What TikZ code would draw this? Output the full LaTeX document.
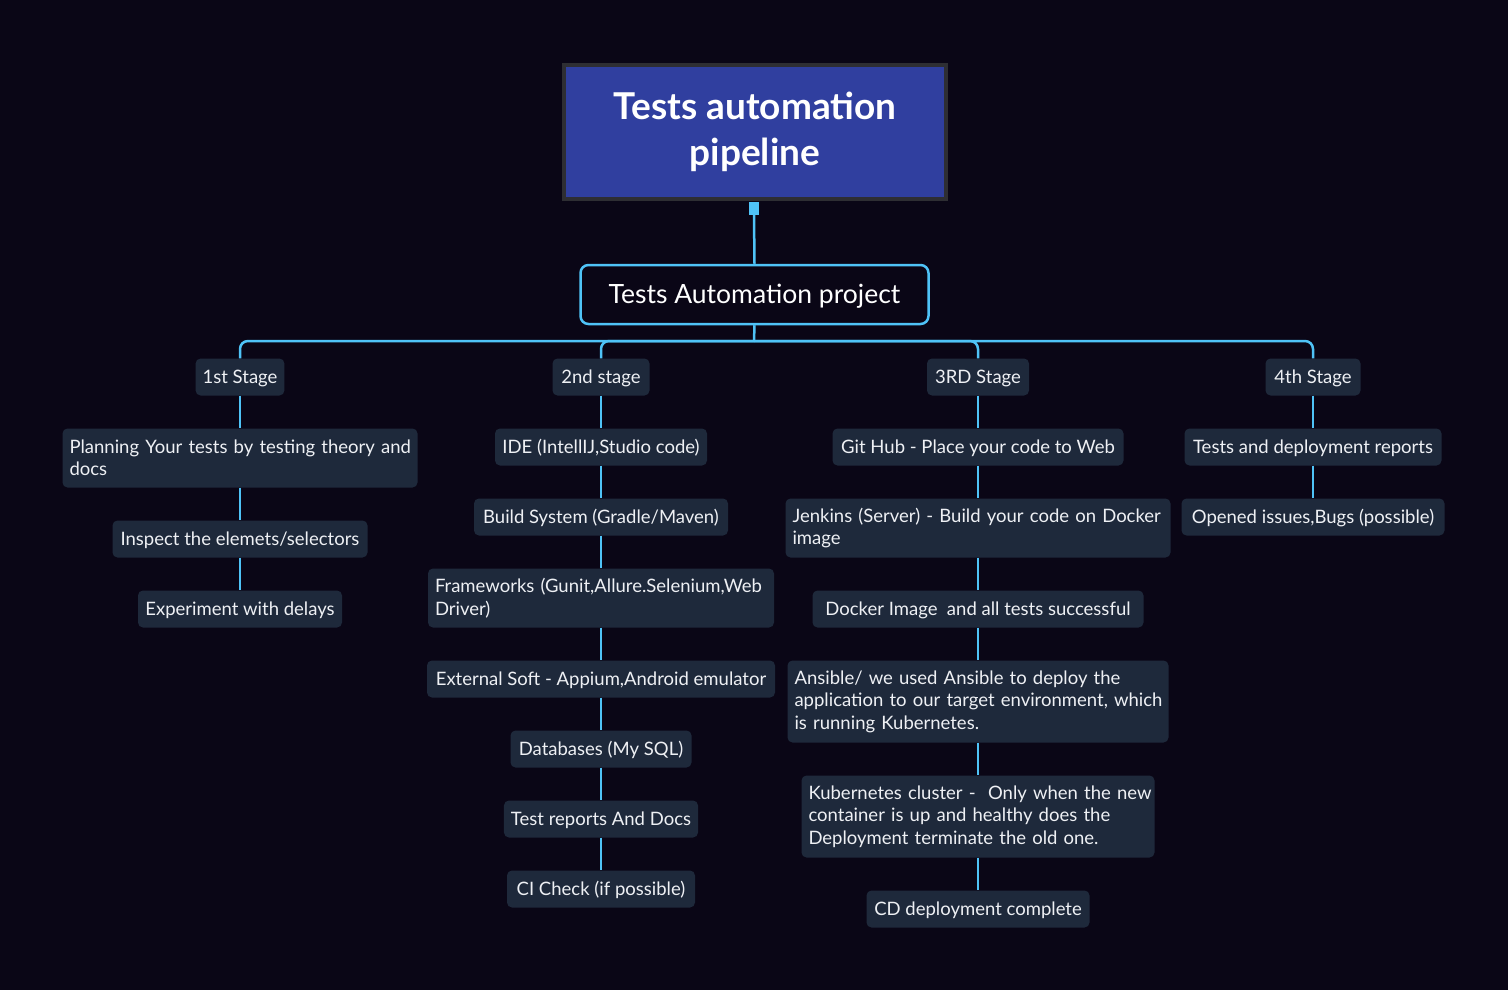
\documentclass[tikz,border=0pt]{standalone}
\usepackage{fontspec}
\setmainfont{Lato}
\definecolor{bgc}{HTML}{0A0616}
\definecolor{rootfill}{HTML}{303F9F}
\definecolor{rootdraw}{HTML}{2E2E33}
\definecolor{linkc}{HTML}{4FC3F7}
\definecolor{leaffill}{HTML}{1E293B}
\definecolor{textc}{HTML}{EEF0F4}
\tikzset{
  link/.style={draw=linkc, line width=2.5pt},
  bus/.style={link, rounded corners=8pt},
  rootbox/.style={fill=rootfill, draw=rootdraw, line width=4pt, text=white, align=center,
    font=\fontsize{37}{46}\selectfont\bfseries, minimum width=382pt, minimum height=134pt},
  handle/.style={fill=linkc, draw=none, inner sep=0pt, minimum width=10pt, minimum height=13pt},
  projbox/.style={fill=bgc, draw=linkc, line width=2.5pt, rounded corners=8pt, text=white,
    font=\fontsize{26.5}{30}\selectfont, minimum width=348pt, minimum height=59pt,
    text height=19pt, text depth=1pt},
  leafbase/.style={fill=leaffill, draw=none, rounded corners=5pt, text=textc,
    font=\fontsize{18.5}{22.5}\selectfont, inner xsep=7pt, inner ysep=0pt, minimum height=37pt},
  leaf/.style={leafbase, text height=14pt, text depth=1pt},
  multi/.style={leafbase, align=left, text width=#1}
}
\begin{document}
\begin{tikzpicture}[x=1pt, y=-1pt]
\fill[bgc] (0,0) rectangle (1508,990);
\useasboundingbox (0,0) rectangle (1508,990);

\node[rootbox] (root) at (755,132) {Tests automation\\pipeline};
\node[handle] (h) at (754,208.5) {};
\node[projbox] (proj) at (754.5,294.5) {Tests Automation project};
\coordinate (bus) at (754,341);

% stages
\node[leaf, minimum width=87pt] (s1) at (240,377) {1st Stage};
\node[leaf, minimum width=97pt] (s2) at (601,377) {2nd stage};
\node[leaf, minimum width=102pt] (s3) at (978,377) {3RD Stage};
\node[leaf, minimum width=95pt] (s4) at (1313,377) {4th Stage};

% column 1
\node[multi=341pt, minimum height=59pt] (a1) at (240,458) {\mbox{Planning Your tests by testing theory and}\\docs};
\node[leaf, minimum width=255pt] (a2) at (240,539) {Inspect the elemets/selectors};
\node[leaf, minimum width=204pt] (a3) at (240,609) {Experiment with delays};

% column 2
\node[leaf, minimum width=212pt] (b1) at (601,447) {IDE (IntellIJ,Studio code)};
\node[leaf, minimum width=254pt] (b2) at (601,517) {Build System (Gradle/Maven)};
\node[multi=332pt, minimum height=59pt] (b3) at (601,598) {\mbox{Frameworks (Gunit,Allure.Selenium,Web}\\Driver)};
\node[leaf, minimum width=348pt] (b4) at (601,679) {External Soft - Appium,Android emulator};
\node[leaf, minimum width=181pt] (b5) at (601,749) {Databases (My SQL)};
\node[leaf, minimum width=194pt] (b6) at (601,819) {Test reports And Docs};
\node[leaf, minimum width=188pt] (b7) at (601,889) {CI Check (if possible)};

% column 3
\node[leaf, minimum width=291pt] (c1) at (978,447) {Git Hub - Place your code to Web};
\node[multi=371pt, minimum height=59pt] (c2) at (978,528) {\mbox{Jenkins (Server) - Build your code on Docker}\\image};
\node[leaf, minimum width=331pt] (c3) at (978,609) {Docker Image\ \ and all tests successful};
\node[multi=367pt, minimum height=82pt] (c4) at (978,701.5) {\mbox{Ansible/ we used Ansible to deploy the}\\\mbox{application to our target environment, which}\\\mbox{is running Kubernetes.}};
\node[multi=339pt, minimum height=82pt] (c5) at (978,816.5) {\mbox{Kubernetes cluster -\ \ Only when the new}\\\mbox{container is up and healthy does the}\\\mbox{Deployment terminate the old one.}};
\node[leaf, minimum width=223pt] (c6) at (978,909) {CD deployment complete};

% column 4
\node[leaf, minimum width=257pt] (d1) at (1313,447) {Tests and deployment reports};
\node[leaf, minimum width=263pt] (d2) at (1313,517) {Opened issues,Bugs (possible)};

% connectors
\draw[link] (h.south) -- (proj.north);
\draw[link] (proj.south) -- (bus);
\draw[bus] (bus) -| (s1.north);
\draw[bus] (bus) -| (s2.north);
\draw[bus] (bus) -| (s3.north);
\draw[bus] (bus) -| (s4.north);

\draw[link] (s1.south) -- (a1.north);
\draw[link] (a1.south) -- (a2.north);
\draw[link] (a2.south) -- (a3.north);

\draw[link] (s2.south) -- (b1.north);
\draw[link] (b1.south) -- (b2.north);
\draw[link] (b2.south) -- (b3.north);
\draw[link] (b3.south) -- (b4.north);
\draw[link] (b4.south) -- (b5.north);
\draw[link] (b5.south) -- (b6.north);
\draw[link] (b6.south) -- (b7.north);

\draw[link] (s3.south) -- (c1.north);
\draw[link] (c1.south) -- (c2.north);
\draw[link] (c2.south) -- (c3.north);
\draw[link] (c3.south) -- (c4.north);
\draw[link] (c4.south) -- (c5.north);
\draw[link] (c5.south) -- (c6.north);

\draw[link] (s4.south) -- (d1.north);
\draw[link] (d1.south) -- (d2.north);
\end{tikzpicture}
\end{document}
